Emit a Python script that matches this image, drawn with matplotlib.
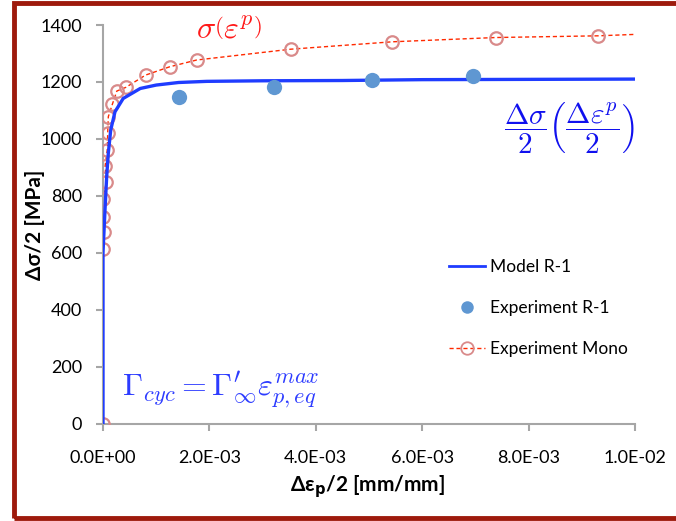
import matplotlib
matplotlib.use("Agg")
import matplotlib.pyplot as plt
from matplotlib.ticker import FuncFormatter
from matplotlib.patches import Rectangle

# ---- data ----
model_x = [0.0, 0.0, 0.00002, 0.00004, 0.00007, 0.0001, 0.000145, 0.000225, 0.00038,
           0.0007, 0.001, 0.00142, 0.00195, 0.003, 0.0045, 0.006, 0.008, 0.01]
model_y = [0, 600, 680, 760, 870, 950, 1031, 1095, 1142,
           1177, 1189, 1198, 1202, 1204, 1205, 1208, 1209, 1210]

exp_x = [0.00143, 0.00321, 0.00506, 0.00695]
exp_y = [1148, 1183, 1206, 1220]

mono_x = [0.0, 0.0, 0.00001, 0.0, 0.0, 0.00006, 0.00004, 0.00008, 0.000088, 0.0001,
          0.000175, 0.00026, 0.00043, 0.0008, 0.00125, 0.00176, 0.00353, 0.00544,
          0.00738, 0.00931]
mono_y = [0, 612, 672, 726, 788, 847, 905, 961, 1019, 1078,
          1121, 1168, 1181, 1224, 1253, 1277, 1315, 1341,
          1356, 1362]
mono_line_x = mono_x + [0.01]
mono_line_y = mono_y + [1367]

xticks = [0.0, 0.002, 0.004, 0.006, 0.008, 0.01]
yticks = [0, 200, 400, 600, 800, 1000, 1200, 1400]

plt.rcParams['font.family'] = ['Lato', 'DejaVu Sans']

fig = plt.figure(figsize=(6.76, 5.21), dpi=100)
ax = fig.add_axes([103/676, 1-423.5/521, 532/676, 398.5/521])

# mono line (dashed) and markers
ax.plot(mono_line_x, mono_line_y, '--', color='#ff2a00', lw=1.0, dashes=(3, 2), zorder=2)
ax.plot(mono_x, mono_y, 'o', ms=9, mfc='none', mec='#d98a8a', mew=1.6, zorder=3)
# model
ax.plot(model_x, model_y, '-', color='#1f3cff', lw=2.4, zorder=4)
# experiment
ax.plot(exp_x, exp_y, 'o', ms=11, color='#5f97d2', mec='none', zorder=5)

# legend handles
h1, = ax.plot([], [], '-', color='#1f3cff', lw=2.0)
h2, = ax.plot([], [], 'o', ms=9, color='#5f97d2', mec='none')
h3, = ax.plot([], [], '--', color='#ff2a00', lw=1.0, dashes=(3, 2),
              marker='o', ms=9, mfc='none', mec='#d98a8a', mew=1.3)
ax.legend([h1, h2, h3], ['Model R-1', 'Experiment R-1', 'Experiment Mono'],
          loc='upper left', bbox_to_anchor=(440/676, 1-250/521), bbox_transform=fig.transFigure,
          frameon=False, fontsize=12.5, labelspacing=1.45, handlelength=2.1,
          handletextpad=0.3, borderpad=0)

ax.set_xlim(0, 0.01)
ax.set_ylim(0, 1400)
ax.set_xticks(xticks)
ax.set_yticks(yticks)
ax.xaxis.set_major_formatter(FuncFormatter(lambda v, p: f"{v:.1E}"))
ax.yaxis.set_major_formatter(FuncFormatter(lambda v, p: f"{v:.0f}"))
for s in ['top', 'right']:
    ax.spines[s].set_visible(False)
for s in ['left', 'bottom']:
    ax.spines[s].set_color('#a6a6a6')
    ax.spines[s].set_linewidth(1.5)
ax.tick_params(axis='both', direction='out', length=5, width=1.5, color='#a6a6a6',
               labelsize=13, labelcolor='black')
ax.tick_params(axis='x', pad=14)
ax.tick_params(axis='y', pad=10)

ax.set_xlabel(r'Δε$_{\mathbf{p}}$/2 [mm/mm]', fontsize=15, fontweight='bold')
ax.set_ylabel('Δσ/2 [MPa]', fontsize=15, fontweight='bold')
ax.xaxis.set_label_coords((368-103)/532, (423.5-487)/398.5)
ax.yaxis.set_label_coords((35-103)/532, (423.5-225)/398.5)
ax.xaxis.label.set_va('center')
ax.yaxis.label.set_va('center')

# annotations
fig.text(229/676, 1-30/521, r'$\sigma\left(\varepsilon^p\right)$', color='#ff1a1a',
         fontsize=23, ha='center', va='center', math_fontfamily='cm')
fig.text(569/676, 1-128/521, r'$\dfrac{\Delta\sigma}{2}\left(\dfrac{\Delta\varepsilon^p}{2}\right)$',
         color='#1010ee', fontsize=21, ha='center', va='center', math_fontfamily='cm')
fig.text(221/676, 1-390/521, r"$\Gamma_{cyc} = \Gamma_\infty^\prime\varepsilon_{p,eq}^{max}$",
         color='#2d3cff', fontsize=23, ha='center', va='center', math_fontfamily='cm')

# border
fig.patches.append(Rectangle((14/676, 3/521), 700/676, 515/521, transform=fig.transFigure,
                             fill=False, edgecolor='#9e1a0c', lw=3.5, clip_on=False))

fig.savefig('out.png', dpi=100)
